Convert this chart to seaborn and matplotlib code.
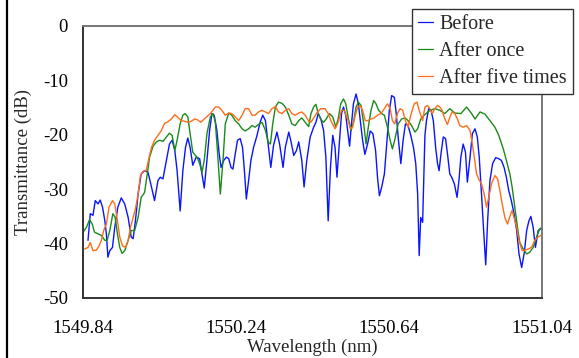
# Transmission spectra before / after
import pandas as pd
import seaborn as sns
import matplotlib.pyplot as plt
from matplotlib.lines import Line2D

# Data
before_wl = [1549.853, 1549.859, 1549.866, 1549.872, 1549.879, 1549.885, 1549.891, 1549.897, 1549.901,
             1549.905, 1549.910, 1549.917, 1549.923, 1549.931, 1549.940, 1549.949, 1549.958, 1549.966,
             1549.971, 1549.977, 1549.984, 1549.992, 1550.001, 1550.010, 1550.019, 1550.027, 1550.036,
             1550.042, 1550.049, 1550.058, 1550.066, 1550.073, 1550.080, 1550.086, 1550.094, 1550.101,
             1550.108, 1550.114, 1550.120, 1550.127, 1550.136, 1550.145, 1550.151, 1550.157, 1550.164,
             1550.171, 1550.177, 1550.183, 1550.190, 1550.196, 1550.201, 1550.208, 1550.215, 1550.221,
             1550.227, 1550.232, 1550.238, 1550.244, 1550.251, 1550.257, 1550.262, 1550.267, 1550.273,
             1550.279, 1550.286, 1550.295, 1550.303, 1550.310, 1550.317, 1550.324, 1550.331, 1550.338,
             1550.347, 1550.354, 1550.363, 1550.369, 1550.378, 1550.384, 1550.391, 1550.398, 1550.404,
             1550.412, 1550.418, 1550.425, 1550.434, 1550.443, 1550.449, 1550.455, 1550.462, 1550.469,
             1550.475, 1550.481, 1550.487, 1550.493, 1550.499, 1550.504, 1550.510, 1550.516, 1550.521,
             1550.527, 1550.534, 1550.537, 1550.542, 1550.547, 1550.554, 1550.560, 1550.565, 1550.571,
             1550.577, 1550.584, 1550.591, 1550.598, 1550.605, 1550.610, 1550.615, 1550.621, 1550.628,
             1550.635, 1550.641, 1550.647, 1550.654, 1550.659, 1550.664, 1550.671, 1550.677, 1550.683,
             1550.690, 1550.697, 1550.704, 1550.710, 1550.715, 1550.719, 1550.723, 1550.728, 1550.734,
             1550.738, 1550.744, 1550.750, 1550.756, 1550.762, 1550.767, 1550.771, 1550.776, 1550.782,
             1550.788, 1550.793, 1550.799, 1550.804, 1550.811, 1550.818, 1550.823, 1550.828, 1550.834,
             1550.840, 1550.845, 1550.852, 1550.858, 1550.865, 1550.871, 1550.876, 1550.882, 1550.888,
             1550.893, 1550.898, 1550.904, 1550.911, 1550.919, 1550.927, 1550.934, 1550.941, 1550.947,
             1550.953, 1550.960, 1550.967, 1550.974, 1550.980, 1550.987, 1550.994, 1551.000, 1551.006,
             1551.011, 1551.017, 1551.023, 1551.030, 1551.037]
before_db = [-39.4, -34.5, -34.8, -32.1, -32.7, -32.0, -33.3, -35.8, -38.2,
             -42.5, -41.3, -40.7, -37.0, -33.3, -31.6, -32.7, -35.2, -38.8,
             -39.1, -35.8, -30.9, -27.2, -26.6, -26.9, -29.6, -32.1, -28.4,
             -27.8, -28.1, -24.7, -21.7, -21.0, -22.9, -26.6, -34.0, -26.6,
             -22.3, -20.6, -22.3, -25.6, -24.1, -24.4, -27.2, -29.8, -24.7,
             -19.2, -16.1, -16.4, -19.2, -23.5, -26.0, -24.7, -24.1, -24.4,
             -26.0, -26.3, -23.5, -21.0, -20.7, -22.3, -26.6, -31.8, -28.4,
             -24.7, -22.3, -20.1, -17.7, -16.4, -17.4, -21.7, -26.0, -22.0,
             -19.5, -21.7, -26.0, -22.3, -19.5, -21.3, -23.8, -22.9, -21.3,
             -24.7, -29.6, -24.7, -20.4, -18.6, -17.7, -16.1, -17.1, -19.2,
             -24.1, -35.8, -26.0, -20.1, -22.3, -27.8, -21.7, -16.1, -14.9,
             -16.4, -20.4, -22.1, -18.0, -14.3, -12.5, -14.3, -17.4, -21.0,
             -23.6, -21.7, -19.3, -19.8, -22.9, -27.8, -31.2, -29.6, -27.2,
             -21.0, -15.5, -12.8, -13.1, -16.1, -20.4, -25.3, -21.0, -18.0,
             -18.3, -20.1, -22.3, -25.3, -30.9, -42.2, -35.2, -36.1, -20.1,
             -17.4, -15.2, -15.5, -17.4, -22.3, -25.3, -26.6, -23.5, -20.4,
             -20.7, -23.5, -27.2, -27.8, -29.0, -31.5, -28.4, -24.1, -21.7,
             -23.2, -28.7, -24.1, -19.8, -18.9, -20.4, -24.1, -30.9, -38.2,
             -43.9, -35.8, -28.4, -25.3, -24.2, -24.4, -24.7, -26.0, -27.8,
             -30.2, -32.1, -34.5, -37.6, -41.9, -44.4, -41.6, -37.6, -35.8,
             -35.0, -37.0, -40.7, -37.6, -37.3]

once_wl = [1549.840, 1549.849, 1549.857, 1549.864, 1549.870, 1549.879, 1549.888, 1549.897, 1549.903,
           1549.910, 1549.918, 1549.924, 1549.930, 1549.936, 1549.942, 1549.949, 1549.958, 1549.966,
           1549.975, 1549.984, 1549.992, 1550.001, 1550.008, 1550.014, 1550.023, 1550.032, 1550.040,
           1550.049, 1550.058, 1550.066, 1550.073, 1550.080, 1550.086, 1550.094, 1550.101, 1550.107,
           1550.114, 1550.120, 1550.127, 1550.134, 1550.138, 1550.145, 1550.151, 1550.157, 1550.164,
           1550.173, 1550.180, 1550.186, 1550.192, 1550.199, 1550.206, 1550.212, 1550.221, 1550.229,
           1550.238, 1550.247, 1550.256, 1550.264, 1550.273, 1550.282, 1550.290, 1550.299, 1550.308,
           1550.317, 1550.324, 1550.330, 1550.336, 1550.343, 1550.351, 1550.360, 1550.369, 1550.378,
           1550.386, 1550.395, 1550.404, 1550.412, 1550.421, 1550.430, 1550.436, 1550.443, 1550.449,
           1550.455, 1550.462, 1550.469, 1550.476, 1550.484, 1550.493, 1550.501, 1550.507, 1550.514,
           1550.521, 1550.527, 1550.534, 1550.541, 1550.547, 1550.554, 1550.560, 1550.567, 1550.574,
           1550.580, 1550.586, 1550.593, 1550.600, 1550.606, 1550.613, 1550.621, 1550.628, 1550.636,
           1550.643, 1550.649, 1550.655, 1550.664, 1550.673, 1550.682, 1550.690, 1550.699, 1550.708,
           1550.715, 1550.723, 1550.732, 1550.747, 1550.760, 1550.773, 1550.786, 1550.799, 1550.812,
           1550.828, 1550.843, 1550.856, 1550.865, 1550.878, 1550.891, 1550.904, 1550.917, 1550.927,
           1550.939, 1550.947, 1550.956, 1550.962, 1550.969, 1550.976, 1550.982, 1550.991, 1551.000,
           1551.008, 1551.017, 1551.026, 1551.034, 1551.040]
once_db = [-37.9, -37.0, -35.6, -36.4, -37.9, -38.2, -38.5, -39.4, -39.4,
           -37.6, -34.5, -35.2, -38.2, -40.7, -41.8, -41.3, -39.4, -37.6,
           -37.6, -35.2, -31.5, -30.6, -27.2, -24.1, -22.1, -21.3, -21.0,
           -21.2, -20.4, -19.7, -20.1, -22.9, -21.0, -18.0, -16.4, -16.1,
           -16.7, -19.8, -23.2, -23.8, -24.1, -25.3, -26.9, -24.7, -19.8,
           -16.7, -16.1, -17.7, -23.5, -30.9, -24.7, -18.0, -16.0, -16.4,
           -17.4, -18.0, -18.9, -19.3, -18.9, -18.3, -18.6, -18.1, -17.7,
           -19.2, -21.3, -21.7, -18.0, -14.9, -14.0, -14.2, -14.9, -16.4,
           -18.0, -18.3, -17.4, -16.9, -17.7, -18.5, -16.1, -14.9, -14.4,
           -16.1, -17.2, -17.7, -17.1, -16.1, -16.7, -18.6, -17.1, -14.3,
           -13.4, -14.3, -17.1, -19.2, -17.7, -14.9, -14.0, -14.6, -18.0,
           -21.7, -18.6, -15.5, -13.7, -14.3, -15.5, -16.1, -16.4, -18.6,
           -21.0, -22.6, -21.0, -18.0, -17.1, -16.9, -17.4, -18.3, -19.5,
           -18.9, -17.1, -16.4, -15.5, -15.2, -15.5, -16.1, -15.2, -16.0,
           -16.1, -14.9, -16.1, -17.1, -15.8, -16.2, -17.4, -18.6, -20.1,
           -22.6, -24.7, -27.2, -29.6, -33.3, -37.0, -39.8, -41.0, -41.9,
           -41.6, -40.7, -38.8, -37.3, -37.0]

five_wl = [1549.844, 1549.853, 1549.859, 1549.866, 1549.875, 1549.882, 1549.888, 1549.894, 1549.901,
           1549.908, 1549.917, 1549.923, 1549.930, 1549.936, 1549.943, 1549.951, 1549.958, 1549.964,
           1549.971, 1549.978, 1549.984, 1549.990, 1549.997, 1550.005, 1550.012, 1550.019, 1550.027,
           1550.036, 1550.045, 1550.053, 1550.062, 1550.071, 1550.080, 1550.088, 1550.097, 1550.106,
           1550.114, 1550.123, 1550.132, 1550.138, 1550.148, 1550.160, 1550.173, 1550.186, 1550.195,
           1550.203, 1550.212, 1550.221, 1550.229, 1550.238, 1550.247, 1550.256, 1550.264, 1550.273,
           1550.282, 1550.290, 1550.299, 1550.308, 1550.317, 1550.325, 1550.334, 1550.343, 1550.351,
           1550.360, 1550.369, 1550.378, 1550.386, 1550.395, 1550.404, 1550.412, 1550.421, 1550.430,
           1550.436, 1550.445, 1550.453, 1550.462, 1550.473, 1550.481, 1550.490, 1550.499, 1550.507,
           1550.516, 1550.523, 1550.532, 1550.539, 1550.545, 1550.551, 1550.558, 1550.565, 1550.571,
           1550.578, 1550.584, 1550.593, 1550.601, 1550.610, 1550.619, 1550.628, 1550.636, 1550.643,
           1550.649, 1550.655, 1550.662, 1550.669, 1550.676, 1550.683, 1550.690, 1550.697, 1550.706,
           1550.713, 1550.719, 1550.728, 1550.734, 1550.741, 1550.747, 1550.753, 1550.760, 1550.767,
           1550.773, 1550.779, 1550.786, 1550.793, 1550.799, 1550.805, 1550.812, 1550.819, 1550.825,
           1550.834, 1550.843, 1550.852, 1550.858, 1550.863, 1550.869, 1550.875, 1550.882, 1550.889,
           1550.895, 1550.901, 1550.908, 1550.917, 1550.924, 1550.930, 1550.936, 1550.943, 1550.950,
           1550.957, 1550.962, 1550.967, 1550.974, 1550.980, 1550.988, 1550.995, 1551.004, 1551.013,
           1551.021, 1551.030, 1551.037]
five_db = [-41.0, -40.7, -39.8, -41.3, -41.2, -40.4, -39.4, -37.6, -36.4,
           -33.3, -32.1, -32.7, -35.8, -38.8, -40.4, -40.7, -39.4, -37.0,
           -35.2, -33.3, -30.9, -27.5, -26.7, -26.6, -24.4, -22.3, -21.0,
           -20.1, -19.2, -17.9, -17.6, -17.1, -16.3, -16.8, -17.4, -17.5,
           -17.7, -17.5, -17.1, -17.2, -17.7, -16.9, -16.1, -14.9, -14.9,
           -15.5, -16.4, -16.0, -16.1, -16.7, -17.4, -16.4, -15.2, -15.2,
           -16.4, -16.4, -15.8, -15.5, -15.8, -16.1, -15.2, -14.8, -15.8,
           -16.1, -15.5, -15.2, -16.1, -16.4, -16.0, -15.8, -16.4, -17.5,
           -17.7, -16.7, -15.8, -15.2, -15.2, -16.1, -17.7, -18.9, -17.7,
           -15.5, -15.5, -17.1, -18.9, -18.6, -16.7, -14.9, -14.6, -15.5,
           -17.4, -17.4, -17.1, -16.9, -16.4, -16.1, -15.2, -14.3, -15.2,
           -17.4, -18.0, -16.1, -15.2, -15.5, -17.4, -18.6, -16.4, -14.3,
           -14.0, -15.5, -17.4, -14.9, -14.6, -15.2, -16.1, -15.2, -14.6,
           -14.9, -15.5, -17.1, -18.1, -16.8, -15.8, -16.1, -17.1, -18.3,
           -18.6, -18.3, -19.2, -21.7, -24.1, -27.2, -28.2, -29.0, -30.9,
           -33.3, -31.5, -29.0, -27.5, -28.1, -30.2, -32.7, -35.2, -36.4,
           -34.8, -33.9, -35.2, -37.0, -39.4, -41.3, -41.2, -41.0, -40.7,
           -39.4, -38.8, -38.5]

labels = ["Before", "After once", "After five times"]
colors = ["#0a14ff", "#1a8a1a", "#ff6d1a"]
xticks = [1549.84, 1550.24, 1550.64, 1551.04]
yticks = [-50, -40, -30, -20, -10, 0]

# long dataframe for seaborn
df = pd.concat([
    pd.DataFrame({"Wavelength": before_wl, "Transmittance": before_db, "Series": labels[0]}),
    pd.DataFrame({"Wavelength": once_wl, "Transmittance": once_db, "Series": labels[1]}),
    pd.DataFrame({"Wavelength": five_wl, "Transmittance": five_db, "Series": labels[2]}),
], ignore_index=True)

sns.set_theme(style="white")
plt.rcParams["font.family"] = ["Liberation Serif", "DejaVu Serif"]

fig = plt.figure(figsize=(5.79, 3.58), dpi=100)
ax = fig.add_axes([0.1434, 0.1676, 0.7926, 0.7598])

sns.lineplot(data=df, x="Wavelength", y="Transmittance", hue="Series",
             palette=dict(zip(labels, colors)), estimator=None, sort=True,
             linewidth=1.0, ax=ax, legend=False)

ax.set_xlim(1549.84, 1551.04)
ax.set_ylim(-50, 0)
ax.set_xticks(xticks)
ax.set_xticklabels([f"{t:.2f}" for t in xticks])
ax.set_yticks(yticks)
ax.set_yticklabels([str(t) for t in yticks])
ax.tick_params(axis="x", direction="in", length=5, width=1, colors="#444444",
               labelcolor="black", labelsize=13.5, pad=15.5, top=False)
ax.tick_params(axis="y", direction="in", length=5, width=1, colors="#444444",
               labelcolor="black", labelsize=13.5, pad=11, right=False)
ax.set_xlabel("Wavelength (nm)", fontsize=13.5, labelpad=1.5)
ax.set_ylabel("Transmittance (dB)", fontsize=13.5, labelpad=8)

for side in ["left", "bottom"]:
    ax.spines[side].set_color("#333333")
    ax.spines[side].set_linewidth(1.4)
for side in ["top", "right"]:
    ax.spines[side].set_color("#777777")
    ax.spines[side].set_linewidth(1.4)

handles = [Line2D([], [], color=c, linewidth=0.9) for c in colors]
leg = ax.legend(handles, labels, loc="upper right",
                bbox_to_anchor=(573 / 579, 1 - 9 / 358), bbox_transform=fig.transFigure,
                fontsize=14.5, frameon=True, fancybox=False, framealpha=1,
                edgecolor="#333333", handlelength=0.75, handletextpad=0.3,
                labelspacing=0.4, borderpad=0.3, borderaxespad=0)
leg.get_frame().set_linewidth(1.0)

# left border line of the figure
fig.add_artist(Line2D([6.5 / 579, 6.5 / 579], [0, 1], transform=fig.transFigure,
                      color="black", linewidth=1.6))

fig.savefig("out.png", dpi=100)
